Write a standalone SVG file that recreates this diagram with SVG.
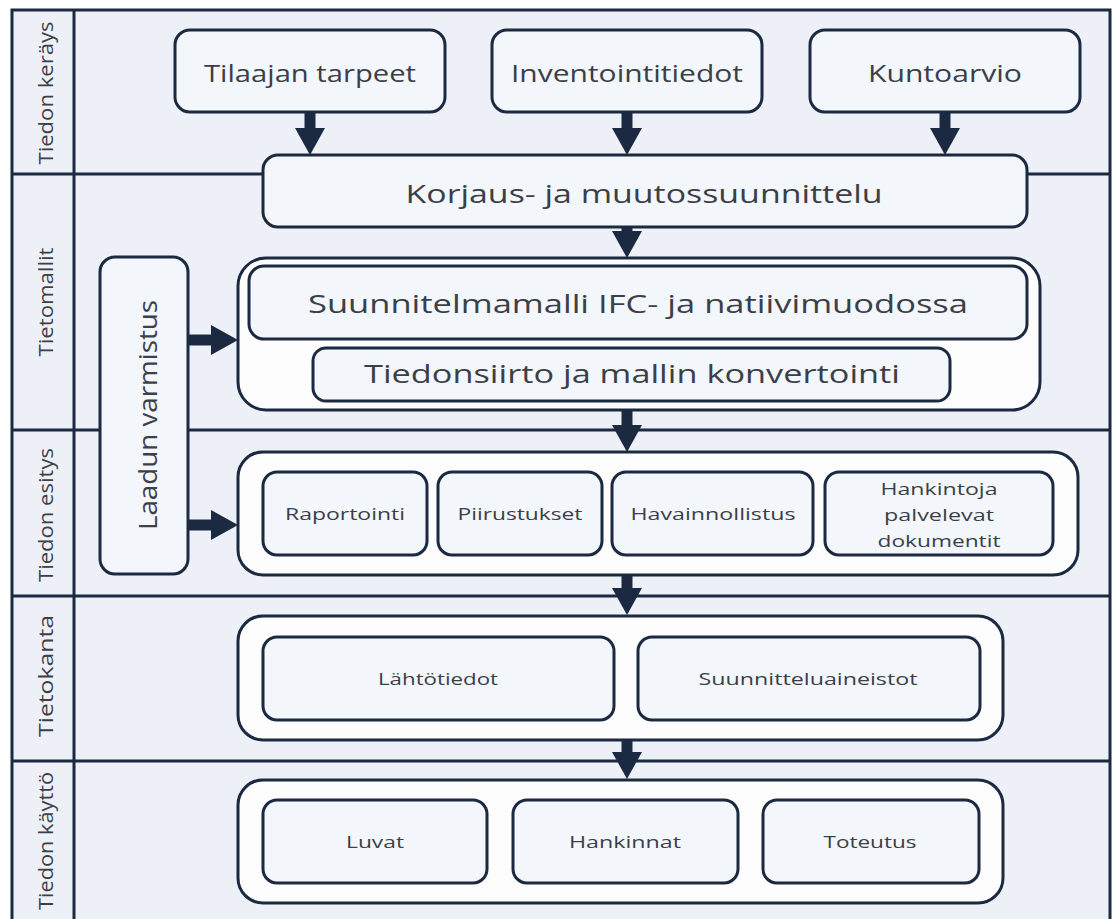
<svg xmlns="http://www.w3.org/2000/svg" width="1112" height="919" viewBox="0 0 1112 919">
  <defs>
    <marker id="ah" viewBox="0 0 27 30" refX="0" refY="15" markerWidth="27" markerHeight="30" markerUnits="userSpaceOnUse" orient="auto">
      <path d="M0,0 L27,15 L0,30 z" fill="#1b2a41"/>
    </marker>
  </defs>
  <style>
    .frame { fill:#edf1f7; stroke:#1b2a41; stroke-width:3; }
    .div { stroke:#1b2a41; stroke-width:3; fill:none; }
    .box { fill:#f3f6fb; stroke:#1b2a41; stroke-width:3; }
    .grp { fill:#fdfdfe; stroke:#1b2a41; stroke-width:3; }
    .conn { stroke:#1b2a41; stroke-width:11; fill:none; marker-end:url(#ah); }
    text { font-family:"Open Sans","DejaVu Sans",sans-serif; fill:#3b3f47; text-anchor:middle; }
    .lane { font-size:20px; dominant-baseline:central; }
    .big { font-size:24px; }
    .xl { font-size:26px; }
    .sm { font-size:17px; }
  </style>

  <g id="swimlanes">
    <rect class="frame" x="12" y="10" width="1098" height="930"/>
    <line class="div" x1="74" y1="10" x2="74" y2="919"/>
    <line class="div" x1="12" y1="174" x2="1110" y2="174"/>
    <line class="div" x1="12" y1="430" x2="1110" y2="430"/>
    <line class="div" x1="12" y1="596" x2="1110" y2="596"/>
    <line class="div" x1="12" y1="761" x2="1110" y2="761"/>
    <text class="lane" transform="translate(45,93) rotate(-90)" textLength="143" lengthAdjust="spacingAndGlyphs">Tiedon keräys</text>
    <text class="lane" transform="translate(45,302) rotate(-90)" textLength="109" lengthAdjust="spacingAndGlyphs">Tietomallit</text>
    <text class="lane" transform="translate(45,515) rotate(-90)" textLength="134" lengthAdjust="spacingAndGlyphs">Tiedon esitys</text>
    <text class="lane" transform="translate(45,676) rotate(-90)" textLength="122" lengthAdjust="spacingAndGlyphs">Tietokanta</text>
    <text class="lane" transform="translate(45,841) rotate(-90)" textLength="138" lengthAdjust="spacingAndGlyphs">Tiedon käyttö</text>
  </g>

  <g id="node-tilaajan">
    <rect class="box" x="175" y="30" width="270" height="82" rx="15"/>
    <text class="big" x="310" y="82" textLength="212" lengthAdjust="spacingAndGlyphs">Tilaajan tarpeet</text>
  </g>
  <g id="node-inventointi">
    <rect class="box" x="492" y="30" width="270" height="82" rx="15"/>
    <text class="big" x="627" y="82" textLength="232" lengthAdjust="spacingAndGlyphs">Inventointitiedot</text>
  </g>
  <g id="node-kuntoarvio">
    <rect class="box" x="810" y="30" width="270" height="82" rx="15"/>
    <text class="big" x="945" y="82" textLength="154" lengthAdjust="spacingAndGlyphs">Kuntoarvio</text>
  </g>
  <g id="node-korjaus">
    <rect class="box" x="263" y="155" width="764" height="72" rx="15"/>
    <text class="xl" x="644" y="203" textLength="477" lengthAdjust="spacingAndGlyphs">Korjaus- ja muutossuunnittelu</text>
  </g>

  <g id="node-laadun">
    <rect class="box" x="100" y="257" width="88" height="317" rx="15"/>
    <text class="xl" transform="translate(147,415) rotate(-90)" dominant-baseline="central" textLength="230" lengthAdjust="spacingAndGlyphs">Laadun varmistus</text>
  </g>

  <g id="group-tietomallit">
    <rect class="grp" x="238" y="258" width="802" height="152" rx="28"/>
    <g id="node-suunnitelmamalli">
      <rect class="box" x="249" y="266" width="778" height="73" rx="15"/>
      <text class="xl" x="638" y="313" textLength="660" lengthAdjust="spacingAndGlyphs">Suunnitelmamalli IFC- ja natiivimuodossa</text>
    </g>
    <g id="node-tiedonsiirto">
      <rect class="box" x="313" y="348" width="637" height="53" rx="13"/>
      <text class="xl" x="632" y="383" textLength="536" lengthAdjust="spacingAndGlyphs">Tiedonsiirto ja mallin konvertointi</text>
    </g>
  </g>

  <g id="group-esitys">
    <rect class="grp" x="238" y="452" width="840" height="123" rx="25"/>
    <g id="node-raportointi">
      <rect class="box" x="263" y="472" width="164" height="83" rx="14"/>
      <text class="sm" x="345" y="520" textLength="120" lengthAdjust="spacingAndGlyphs">Raportointi</text>
    </g>
    <g id="node-piirustukset">
      <rect class="box" x="438" y="472" width="164" height="83" rx="14"/>
      <text class="sm" x="520" y="520" textLength="125" lengthAdjust="spacingAndGlyphs">Piirustukset</text>
    </g>
    <g id="node-havainnollistus">
      <rect class="box" x="612" y="472" width="201" height="83" rx="14"/>
      <text class="sm" x="713" y="520" textLength="165" lengthAdjust="spacingAndGlyphs">Havainnollistus</text>
    </g>
    <g id="node-hankintoja">
      <rect class="box" x="825" y="472" width="228" height="83" rx="14"/>
      <text class="sm" x="939" y="495" textLength="117" lengthAdjust="spacingAndGlyphs">Hankintoja</text>
      <text class="sm" x="939" y="521" textLength="110" lengthAdjust="spacingAndGlyphs">palvelevat</text>
      <text class="sm" x="939" y="547" textLength="123" lengthAdjust="spacingAndGlyphs">dokumentit</text>
    </g>
  </g>

  <g id="group-tietokanta">
    <rect class="grp" x="238" y="616" width="765" height="124" rx="25"/>
    <g id="node-lahtotiedot">
      <rect class="box" x="263" y="637" width="351" height="83" rx="14"/>
      <text class="sm" x="438" y="685" textLength="120" lengthAdjust="spacingAndGlyphs">Lähtötiedot</text>
    </g>
    <g id="node-suunnitteluaineistot">
      <rect class="box" x="638" y="637" width="342" height="83" rx="14"/>
      <text class="sm" x="808" y="685" textLength="219" lengthAdjust="spacingAndGlyphs">Suunnitteluaineistot</text>
    </g>
  </g>

  <g id="group-kaytto">
    <rect class="grp" x="238" y="780" width="765" height="123" rx="25"/>
    <g id="node-luvat">
      <rect class="box" x="263" y="800" width="224" height="83" rx="14"/>
      <text class="sm" x="375" y="848" textLength="58" lengthAdjust="spacingAndGlyphs">Luvat</text>
    </g>
    <g id="node-hankinnat">
      <rect class="box" x="513" y="800" width="225" height="83" rx="14"/>
      <text class="sm" x="625" y="848" textLength="112" lengthAdjust="spacingAndGlyphs">Hankinnat</text>
    </g>
    <g id="node-toteutus">
      <rect class="box" x="763" y="800" width="216" height="83" rx="14"/>
      <text class="sm" x="870" y="848" textLength="93" lengthAdjust="spacingAndGlyphs">Toteutus</text>
    </g>
  </g>

  <g id="connectors">
    <line class="conn" x1="310" y1="112" x2="310" y2="128"/>
    <line class="conn" x1="627" y1="112" x2="627" y2="128"/>
    <line class="conn" x1="945" y1="112" x2="945" y2="128"/>
    <line class="conn" x1="627" y1="227" x2="627" y2="231"/>
    <line class="conn" x1="627" y1="410" x2="627" y2="425"/>
    <line class="conn" x1="627" y1="575" x2="627" y2="588"/>
    <line class="conn" x1="627" y1="740" x2="627" y2="752"/>
    <line class="conn" x1="188" y1="340" x2="211" y2="340"/>
    <line class="conn" x1="188" y1="525" x2="211" y2="525"/>
  </g>
</svg>
